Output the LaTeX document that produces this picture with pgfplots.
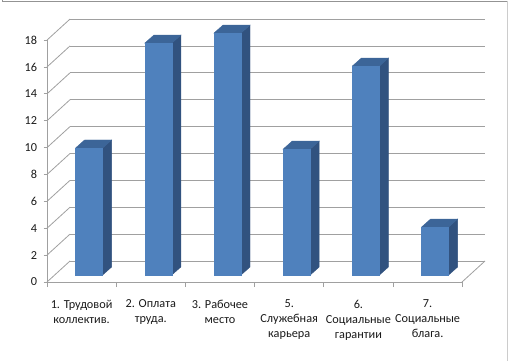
\documentclass[border=0pt]{standalone}
\usepackage{fontspec}
\setmainfont{Carlito}
\usepackage{pgfplots}
\usepackage{pgfplotstable}
\pgfplotsset{compat=1.18}
\definecolor{barfront}{HTML}{4F81BD}
\definecolor{barside}{HTML}{31527F}
\definecolor{bartop}{HTML}{3C6598}
\definecolor{gridc}{HTML}{A0A0A0}
\definecolor{txt}{HTML}{1A1A1A}
\pgfdeclareplotmark{empty}{}
\pgfplotstableread{
idx v
0 9.45
1 17.25
2 18.0
3 9.37
4 15.55
5 3.57
}\data
\begin{document}
\begin{tikzpicture}[x=1bp,y=1bp]
\useasboundingbox (0,0) rectangle (511,360);
\draw[gray!85, line width=0.9bp] (2,400) -- (2,359) -- (507,359);
\draw[gray!40, line width=0.8bp] (507,359) -- (507,-10);
% back wall grid
\begin{axis}[at={(70bp,99bp)}, anchor=south west, x=69.2bp, y=13.44bp,
  xmin=-0.5, xmax=5.5, ymin=0, ymax=18,
  axis line style={draw=none}, ytick={0,2,...,18}, xtick=\empty,
  yticklabels={}, major tick length=0pt, ymajorgrids,
  grid style={gridc, line width=0.8bp}]
\end{axis}
\foreach \t in {0,2,...,18} \draw[gridc, line width=0.8bp] (47,{78+\t*13.44}) -- ++(23,21);
\draw[gridc, line width=0.8bp] (462,78) -- ++(23,21);
\begin{axis}[at={(47bp,78bp)}, anchor=south west, x=69.2bp, y=13.44bp,
  xmin=-0.5, xmax=5.5, ymin=0, ymax=18, clip=false,
  axis x line*=bottom, axis y line*=left,
  axis line style={gridc, line width=0.8bp},
  ytick={0,2,...,18},
  xtick={0,...,5},
  xticklabels={{1. Трудовой\\коллектив.},{2. Оплата\\труда.},{3. Рабочее\\место},{5.\\Служебная\\карьера},{6.\\Социальные\\гарантии},{7.\\Социальные\\блага.}},
  minor xtick={-0.5,0.5,...,5.5},
  tick align=outside,
  major tick length=3.5bp, minor tick length=5bp,
  tick style={gridc, line width=0.8bp},
  major x tick style={opacity=0},
  /pgf/number format/assume math mode=true,
  yticklabel style={font=\fontsize{12.3}{14}\selectfont, text=txt, xshift=-3bp},
  xticklabel style={font=\fontsize{12.3}{15}\selectfont, text=txt, align=center, anchor=north, yshift=-11bp},
]
\addplot[scatter, only marks, mark=empty,
  visualization depends on={rawy\as\val},
  scatter/@pre marker code/.code={%
    \pgfmathsetmacro\h{7-\val*13.44}%
    \fill[barside] (21bp,{\h*1bp}) -- (30bp,{(\h+8)*1bp}) -- (30bp,15bp) -- (21bp,7bp) -- cycle;
    \fill[bartop] (-6bp,7bp) -- (21bp,7bp) -- (30bp,15bp) -- (3bp,15bp) -- cycle;
    \fill[barfront] (-6bp,{\h*1bp}) rectangle (21bp,7bp);
  },
  scatter/@post marker code/.code={}
] table[x=idx, y=v] {\data};
\end{axis}
\end{tikzpicture}
\end{document}
